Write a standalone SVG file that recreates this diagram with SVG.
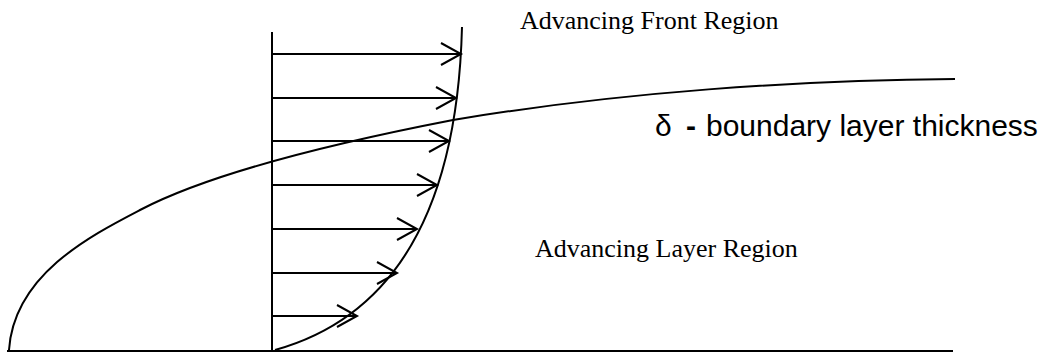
<svg xmlns="http://www.w3.org/2000/svg" width="1040" height="352" viewBox="0 0 1040 352">
  <style>
    .ln { fill: none; stroke: #000; stroke-width: 2; }
    .ar { fill: none; stroke: #000; stroke-width: 2; }
    .times { font-family: "Liberation Serif", "Times New Roman", serif; font-size: 26px; fill: #000; }
    .arial { font-family: "Liberation Sans", Arial, sans-serif; font-size: 30px; fill: #000; }
  </style>
  <g id="axes">
    <line class="ln" x1="7" y1="351" x2="953" y2="351"/>
    <line class="ln" x1="272" y1="32" x2="272" y2="352"/>
  </g>
  <g id="velocity-profile">
    <path class="ln" d="M275,350 Q455,300 462,27"/>
  </g>
  <g id="boundary-layer">
    <path class="ln" d="M9,350 C14,275 90,236 140,210 C220,168 360,138 453,120 C620,92 800,80 955,79"/>
  </g>
  <g id="connectors">
    <path class="ar" d="M272,54 H461 M441,43 L461,54 L441,65"/>
    <path class="ar" d="M272,98 H456 M436,87 L456,98 L436,109"/>
    <path class="ar" d="M272,141 H449 M429,130 L449,141 L429,152"/>
    <path class="ar" d="M272,185 H437 M417,174 L437,185 L417,196"/>
    <path class="ar" d="M272,229 H417 M397,218 L417,229 L397,240"/>
    <path class="ar" d="M272,273 H397 M377,262 L397,273 L377,284"/>
    <path class="ar" d="M272,316 H357 M337,305 L357,316 L337,327"/>
  </g>
  <g id="label-front">
    <text class="times" x="520" y="29">Advancing Front Region</text>
  </g>
  <g id="label-layer">
    <text class="times" x="535" y="257">Advancing Layer Region</text>
  </g>
  <g id="label-delta">
    <text class="arial" x="655" y="136">δ <tspan x="686" font-weight="bold">-</tspan> <tspan x="706">boundary layer thickness</tspan></text>
  </g>
</svg>
